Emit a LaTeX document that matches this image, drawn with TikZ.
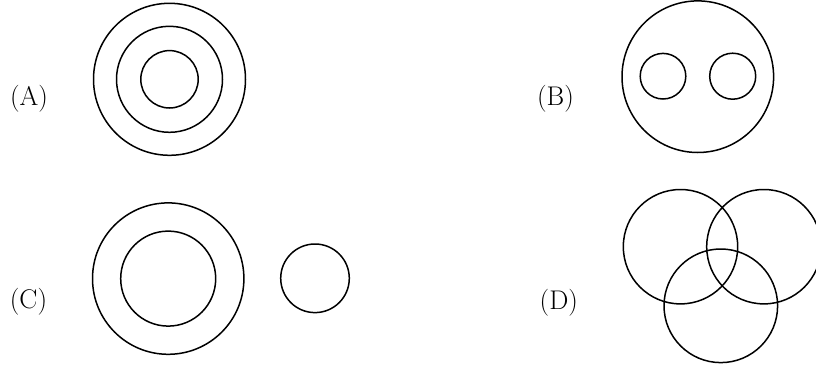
\documentclass[tikz,border=0pt]{standalone}
\begin{document}
\begin{tikzpicture}[x=1pt,y=-1pt,
  ring/.style={draw=black,line width=1.5pt},
  lbl/.style={font=\fontsize{27}{30}\selectfont,inner sep=0pt}]
\useasboundingbox (0,0) rectangle (816,367);
\clip (0,0) rectangle (816,367);
% (A)
\node[lbl] (la) at (29,99) {(A)};
\draw[ring] (169.5,79.3) circle[radius=76];
\draw[ring] (169.5,79.3) circle[radius=53];
\draw[ring] (169.5,79.3) circle[radius=28.7];
% (B)
\node[lbl] (lb) at (555.5,99) {(B)};
\draw[ring] (697.8,76.7) circle[radius=75.8];
\draw[ring] (663,76.2) circle[radius=22.8];
\draw[ring] (732.7,76.2) circle[radius=23];
% (C)
\node[lbl] (lc) at (28.5,302) {(C)};
\draw[ring] (168.2,278.6) circle[radius=75.7];
\draw[ring] (168.2,278.6) circle[radius=47.5];
\draw[ring] (315,278.3) circle[radius=34.3];
% (D)
\node[lbl] (ld) at (558.8,303) {(D)};
\draw[ring] (680.5,246.7) circle[radius=57.2];
\draw[ring] (763.9,246.7) circle[radius=57.2];
\draw[ring] (720.8,305.8) circle[radius=56.8];
\end{tikzpicture}
\end{document}
